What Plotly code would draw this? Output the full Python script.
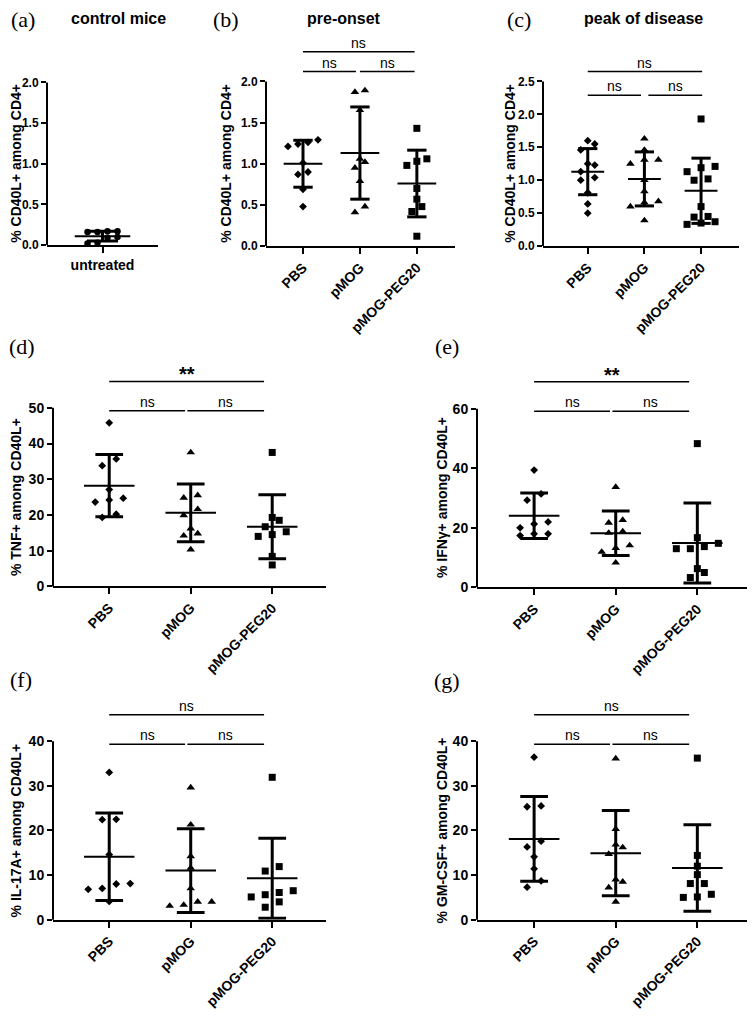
import plotly.graph_objects as go

# the page body has an 8px margin, so the figure is drawn 8px in from the corner
OFF = 8
W, H = 755 - OFF, 1018 - OFF
FONT = "Liberation Sans, Arial, sans-serif"
SERIF = "Liberation Serif, Times New Roman, serif"

groups = ["PBS", "pMOG", "pMOG-PEG20"]
symbols = ["diamond", "triangle-up", "square"]
msizes = [6, 7.5, 7]

# (a) control mice, % CD40L+ among CD4+
a_untreated = [0.17, 0.16, 0.16, 0.17, 0.10, 0.09, 0.03, 0.02]
a_mean = [0.11]
a_sd = [0.06]

# (b) pre-onset, % CD40L+ among CD4+
b_pbs = [1.24, 1.21, 1.26, 1.29, 1.01, 0.87, 0.90, 0.69, 0.48]
b_pmog = [1.89, 1.87, 1.65, 1.02, 1.06, 0.95, 0.79, 0.41, 0.48]
b_peg = [1.43, 1.03, 1.06, 0.98, 0.70, 0.57, 0.48, 0.42, 0.12]
b_mean = [1.00, 1.13, 0.76]
b_sd = [0.285, 0.56, 0.405]
b_sig = [2.36, 2.12]
b_sig_text = ["ns", "ns", "ns"]

# (c) peak of disease, % CD40L+ among CD4+
c_pbs = [1.60, 1.55, 1.46, 1.25, 1.23, 1.13, 1.04, 1.00, 0.81, 0.64, 0.50]
c_pmog = [1.63, 1.46, 1.31, 1.31, 1.25, 1.00, 0.83, 0.68, 0.66, 0.60, 0.39]
c_peg = [1.93, 1.19, 1.21, 1.13, 1.02, 1.00, 0.60, 0.44, 0.45, 0.33, 0.35, 0.37]
c_mean = [1.13, 1.02, 0.84]
c_sd = [0.35, 0.41, 0.495]
c_sig = [2.65, 2.29]
c_sig_text = ["ns", "ns", "ns"]

# (d) % TNF+ among CD40L+
d_pbs = [45.8, 35.7, 33.8, 27.1, 24.2, 24.7, 23.6, 20.2, 19.3]
d_pmog = [37.5, 24.8, 25.5, 21.6, 19.9, 16.2, 14.8, 14.2, 10.3]
d_peg = [37.5, 19.3, 18.5, 15.3, 16.7, 14.0, 14.5, 8.4, 6.0]
d_mean = [28.2, 20.6, 16.7]
d_sd = [8.7, 8.1, 8.95]
d_sig = [57.4, 49.2]
d_sig_text = ["**", "ns", "ns"]

# (e) % IFNγ+ among CD40L+
e_pbs = [39.4, 31.4, 29.3, 21.3, 22.0, 20.0, 17.4, 18.0, 18.0]
e_pmog = [33.7, 22.6, 21.7, 18.8, 18.3, 14.1, 13.2, 11.9, 8.3]
e_peg = [48.3, 16.7, 13.7, 13.0, 13.0, 14.8, 6.3, 5.0, 3.3]
e_mean = [24.1, 18.2, 14.9]
e_sd = [7.65, 7.5, 13.45]
e_sig = [69.1, 59.2]
e_sig_text = ["**", "ns", "ns"]

# (f) % IL-17A+ among CD40L+
f_pbs = [33.0, 22.4, 22.5, 14.6, 8.1, 8.0, 7.0, 6.8, 4.1]
f_pmog = [29.6, 21.3, 14.2, 11.6, 7.0, 4.0, 4.0, 3.1, 3.3]
f_peg = [31.9, 11.9, 10.9, 5.1, 6.5, 5.6, 6.1, 4.0, 2.8]
f_mean = [14.1, 11.0, 9.3]
f_sd = [9.8, 9.4, 8.95]
f_sig = [45.9, 39.3]
f_sig_text = ["ns", "ns", "ns"]

# (g) % GM-CSF+ among CD40L+
g_pbs = [36.4, 25.3, 25.5, 16.3, 17.6, 14.1, 11.4, 8.7, 7.3]
g_pmog = [36.1, 20.3, 16.2, 16.8, 14.7, 8.5, 9.0, 7.2, 4.0]
g_peg = [36.2, 14.4, 12.0, 10.1, 8.1, 8.1, 5.7, 5.0, 5.1]
g_mean = [18.1, 14.9, 11.6]
g_sd = [9.5, 9.55, 9.7]
g_sig = [45.9, 39.3]
g_sig_text = ["ns", "ns", "ns"]

fig = go.Figure()
layout = {}
shapes = []
annotations = []


def px_x(px):
    return (px - OFF) / W


def px_y(py):
    return 1 - (py - OFF) / H


def swarm(vals, ppu, slot_px, row_px=7):
    # prism-like scatter: points close in value share a row, centred
    order = sorted(range(len(vals)), key=lambda i: vals[i])
    rows = []
    for i in order:
        if rows and (vals[i] - vals[rows[-1][0]]) * ppu < row_px:
            rows[-1].append(i)
        else:
            rows.append([i])
    offs = [0.0] * len(vals)
    for r in rows:
        for k, i in enumerate(r):
            offs[i] = (k - (len(r) - 1) / 2) * slot_px
    return offs


def add_panel(n, box, xr, cats, data, means, sds, syms, sizes, ymax, dtick, ytitle, ytitle_xy,
              tickfs, sig=None, sig_text=None, brk=None, tickangle=-45, slot_px=14,
              cap=0.17, mhalf=0.31):
    x0, x1, y0, ymax_px = box
    top_px = ymax_px - 62
    ppu = (y0 - ymax_px) / ymax
    ytop = (y0 - top_px) / ppu
    xu = (xr[1] - xr[0]) / (x1 - x0)
    xa = "x" if n == 1 else "x%d" % n
    ya = "y" if n == 1 else "y%d" % n

    for i, vals in enumerate(data):
        offs = swarm(vals, ppu, slot_px)
        fig.add_trace(go.Scatter(
            x=[i + o * xu for o in offs], y=vals, mode="markers",
            marker=dict(symbol=syms[i], size=sizes[i], color="black", line=dict(width=0)),
            xaxis=xa, yaxis=ya, cliponaxis=False, showlegend=False, hoverinfo="skip"))
        m, s = means[i], sds[i]
        fig.add_trace(go.Scatter(
            x=[i, i, None, i - cap, i + cap, None, i - cap, i + cap],
            y=[m - s, m + s, None, m + s, m + s, None, m - s, m - s],
            mode="lines", line=dict(color="black", width=3),
            xaxis=xa, yaxis=ya, showlegend=False, hoverinfo="skip"))
        fig.add_trace(go.Scatter(
            x=[i - mhalf, i + mhalf], y=[m, m], mode="lines",
            line=dict(color="black", width=2),
            xaxis=xa, yaxis=ya, showlegend=False, hoverinfo="skip"))

    if sig:
        left_end, right_start, top_end = brk
        segs = [(0, top_end, sig[0]), (0, left_end, sig[1]), (right_start, top_end, sig[1])]
        for (a, b, yv), txt in zip(segs, sig_text):
            fig.add_trace(go.Scatter(
                x=[a, b], y=[yv, yv], mode="lines", line=dict(color="black", width=1.5),
                xaxis=xa, yaxis=ya, showlegend=False, hoverinfo="skip"))
            star = txt != "ns"
            annotations.append(dict(
                x=(a + b) / 2, y=yv, xref=xa, yref=ya, text="<b>%s</b>" % txt if star else txt,
                showarrow=False, xanchor="center", yanchor="bottom", yshift=-6 if star else -1,
                font=dict(family=FONT, size=20 if star else 14, color="black")))

    lk = "" if n == 1 else str(n)
    nt = int(round(ymax / dtick))
    tv = [k * dtick for k in range(nt + 1)]
    layout["xaxis" + lk] = dict(
        domain=[px_x(x0), px_x(x1)], range=xr, anchor=ya,
        tickvals=list(range(len(cats))), ticktext=cats, tickangle=tickangle,
        showline=True, linewidth=2, linecolor="black", ticks="outside", ticklen=6,
        tickwidth=2, tickcolor="black", showgrid=False, zeroline=False,
        tickfont=dict(family=FONT, size=14, color="black", weight="bold"))
    layout["yaxis" + lk] = dict(
        domain=[px_y(y0), px_y(top_px)], range=[0, ytop], anchor=xa,
        tickmode="array", tickvals=tv,
        ticktext=["%g" % v if dtick >= 1 else "%.1f" % v for v in tv],
        showline=False, ticks="outside", ticklen=5, tickwidth=2, tickcolor="black",
        showgrid=False, zeroline=False,
        tickfont=dict(family=FONT, size=tickfs, color="black", weight="bold"))
    shapes.append(dict(type="line", xref=xa + " domain", yref=ya + " domain",
                       x0=0, x1=0, y0=0, y1=ymax / ytop, line=dict(color="black", width=2)))
    annotations.append(dict(
        x=px_x(ytitle_xy[0]), y=px_y(ytitle_xy[1]), xref="paper", yref="paper",
        text="<b>%s</b>" % ytitle, textangle=-90, showarrow=False,
        xanchor="center", yanchor="middle",
        font=dict(family=FONT, size=14, color="black")))


add_panel(1, (47, 158, 247, 83), [-0.5, 0.5], ["untreated"], [a_untreated], a_mean, a_sd,
          ["circle"], [6.5], 2.0, 0.5, "% CD40L+ among CD4+", (16, 165), 12,
          tickangle=0, slot_px=10, cap=0.14, mhalf=0.25)
add_panel(2, (266, 455, 248, 82), [-0.65, 2.67], groups, [b_pbs, b_pmog, b_peg], b_mean, b_sd,
          symbols, msizes, 2.0, 0.5, "% CD40L+ among CD4+", (226, 165), 12,
          sig=b_sig, sig_text=b_sig_text, brk=(0.93, 1.0, 1.96), slot_px=10, mhalf=0.34)
add_panel(3, (543, 739, 248, 82), [-0.79, 2.67], groups, [c_pbs, c_pmog, c_peg], c_mean, c_sd,
          symbols, msizes, 2.5, 0.5, "% CD40L+ among CD4+", (510, 165), 12,
          sig=c_sig, sig_text=c_sig_text, brk=(0.94, 1.07, 2.02), slot_px=14, mhalf=0.29)
add_panel(4, (53, 326, 591, 411), [-0.69, 2.66], groups, [d_pbs, d_pmog, d_peg], d_mean, d_sd,
          symbols, msizes, 50, 10, "% TNF+ among CD40L+", (16, 501), 14,
          sig=d_sig, sig_text=d_sig_text, brk=(0.93, 0.96, 1.9))
add_panel(5, (477, 752, 592, 412), [-0.70, 2.67], groups, [e_pbs, e_pmog, e_peg], e_mean, e_sd,
          symbols, msizes, 60, 20, "% IFNγ+ among CD40L+", (442, 502), 14,
          sig=e_sig, sig_text=e_sig_text, brk=(0.93, 0.96, 1.9))
add_panel(6, (53, 326, 927, 747), [-0.69, 2.66], groups, [f_pbs, f_pmog, f_peg], f_mean, f_sd,
          symbols, msizes, 40, 10, "% IL-17A+ among CD40L+", (16, 837), 14,
          sig=f_sig, sig_text=f_sig_text, brk=(0.93, 0.96, 1.9))
add_panel(7, (477, 752, 927, 747), [-0.70, 2.67], groups, [g_pbs, g_pmog, g_peg], g_mean, g_sd,
          symbols, msizes, 40, 10, "% GM-CSF+ among CD40L+", (442, 837), 14,
          sig=g_sig, sig_text=g_sig_text, brk=(0.93, 0.96, 1.9))

# panel letters and titles
for txt, px, py in [("(a)", 23, 20), ("(b)", 226, 20), ("(c)", 519, 20), ("(d)", 22, 349),
                    ("(e)", 447, 349), ("(f)", 21, 685), ("(g)", 447, 686)]:
    annotations.append(dict(x=px_x(px), y=px_y(py), xref="paper", yref="paper", text=txt,
                            showarrow=False, xanchor="center", yanchor="middle",
                            font=dict(family=SERIF, size=22, color="black")))
for txt, px, py in [("control mice", 118, 19), ("pre-onset", 344, 19), ("peak of disease", 643, 19)]:
    annotations.append(dict(x=px_x(px), y=px_y(py), xref="paper", yref="paper",
                            text="<b>%s</b>" % txt, showarrow=False,
                            xanchor="center", yanchor="middle",
                            font=dict(family=FONT, size=16, color="black")))

fig.update_layout(width=W, height=H, autosize=False, margin=dict(l=0, r=0, t=0, b=0),
                  paper_bgcolor="white", plot_bgcolor="white", showlegend=False,
                  shapes=shapes, annotations=annotations, **layout)

fig.write_html("out.html")
